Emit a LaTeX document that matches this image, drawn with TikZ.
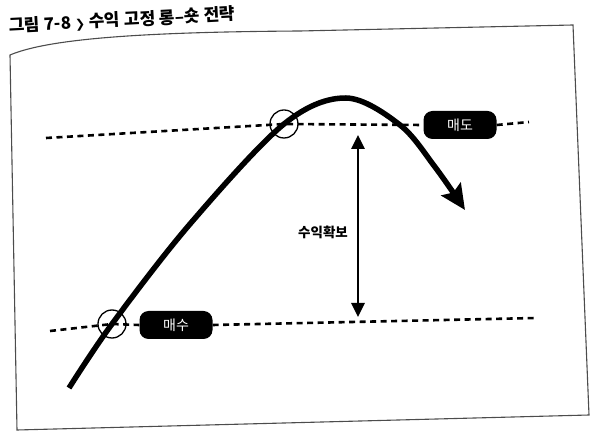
\documentclass[tikz,border=0pt]{standalone}
\usepackage{fontspec}
\setmainfont{Noto Sans CJK KR}
\newfontfamily\chevfont{DejaVu Sans}
\usetikzlibrary{arrows.meta}
\begin{document}
\begin{tikzpicture}[x=1pt,y=1pt,
  frame/.style={draw=black!70, line width=1.1pt},
  level/.style={line width=2.6pt, dash pattern=on 6pt off 4.5pt},
  hitcircle/.style={circle, draw, line width=1.3pt, minimum size=28pt, inner sep=0pt},
  tag/.style={fill=black, rounded corners=9pt, minimum width=73pt, minimum height=28pt, inner sep=0pt, text=white, font=\fontsize{14}{16}\selectfont},
  price/.style={line width=5.5pt, -{Stealth[length=25pt,width=23pt,inset=4pt]}},
  gap/.style={line width=2.8pt, {Triangle[length=14pt,width=13pt]}-{Triangle[length=14pt,width=13pt]}},
  label/.style={font=\bfseries\fontsize{13.5}{15}\selectfont},
  title/.style={font=\bfseries\fontsize{17}{19}\selectfont, anchor=base west, rotate=3, inner sep=0pt}
]
\useasboundingbox (0,0) rectangle (600,439);

% title
\node[title] (ttl) at (9,407) {그림 7-8 {\chevfont\bfseries\fontsize{12}{14}\selectfont ❯} 수익 고정 롱–숏 전략};

% page frame
\draw[frame] (10,384) .. controls (50,401) and (150,407) .. (300,408) -- (573,414) -- (589,24) -- (17,9) -- cycle;

% coordinates
\coordinate (UL) at (46,301);
\coordinate (UR) at (529,317);
\coordinate (LL) at (50,108);
\coordinate (LR) at (536,121);
\coordinate (S) at (69,51);
\coordinate (M) at (190,215);
\coordinate (P) at (346,341);
\coordinate (D) at (400,314);
\coordinate (E) at (435,272);
\coordinate (T) at (465,229);
\coordinate (gtop) at (358,304);
\coordinate (gbot) at (358,122);

% markers and tags
\node[hitcircle] (uc) at (284,315) {};
\node[hitcircle] (lc) at (112,115) {};
\node[tag] (sell) at (460,314) {매도};
\node[tag] (buy) at (176,114) {매수};

% dashed levels
\draw[level] (UL) -- (uc.center) -- (sell.west);
\draw[level] (sell.east) -- (UR);
\draw[level] (LL) -- (lc.center) -- (buy.west);
\draw[level] (buy.east) -- (LR);

% price curve
\draw[price] plot[smooth, tension=0.55] coordinates {(S) (lc.center) (M) (uc.center) (P) (D) (E) (T)};

% profit gap
\draw[gap] (gtop) -- (gbot);
\node[label] (profit) at (323,207) {수익확보};
\end{tikzpicture}
\end{document}
